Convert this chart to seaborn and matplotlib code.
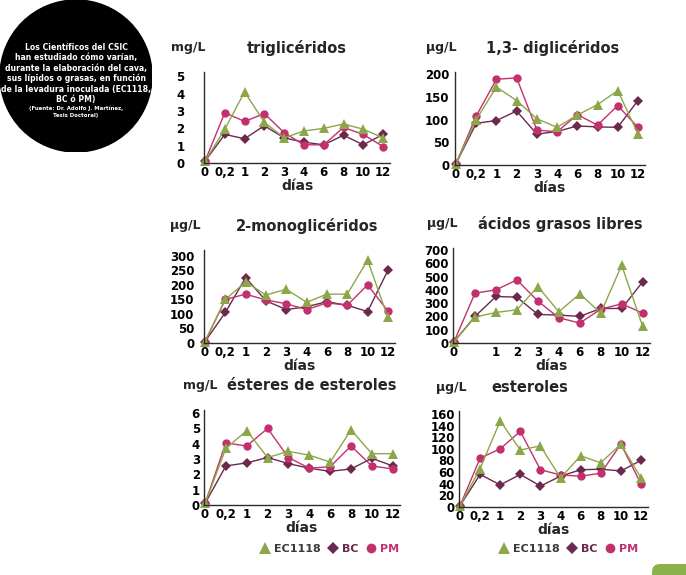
import numpy as np
import pandas as pd
import matplotlib
matplotlib.use('Agg')
import matplotlib.pyplot as plt
import matplotlib.patches as mpatches
from matplotlib.lines import Line2D
import seaborn as sns

# Data
dias = ['0', '0,2', '1', '2', '3', '4', '6', '8', '10', '12']
cepas = ['EC1118', 'BC', 'PM']

trigliceridos = {
    'EC1118': [0.1, 1.95, 4.1, 2.35, 1.45, 1.85, 2.0, 2.25, 1.95, 1.45],
    'BC':     [0.1, 1.65, 1.4, 2.15, 1.45, 1.2, 1.05, 1.6, 1.05, 1.65],
    'PM':     [0.1, 2.9, 2.4, 2.85, 1.75, 1.05, 1.05, 2.05, 1.65, 0.95],
}
digliceridos = {
    'EC1118': [3, 100, 172, 142, 102, 83, 110, 133, 164, 69],
    'BC':     [3, 92, 98, 119, 68, 74, 86, 84, 83, 142],
    'PM':     [3, 108, 189, 192, 77, 73, 111, 88, 131, 83],
}
monogliceridos = {
    'EC1118': [5, 150, 210, 165, 185, 140, 168, 168, 285, 88],
    'BC':     [5, 105, 225, 145, 115, 125, 142, 130, 108, 250],
    'PM':     [5, 150, 168, 148, 135, 115, 138, 130, 200, 110],
}
acidos_grasos = {
    'EC1118': [10, 195, 230, 250, 425, 235, 370, 225, 585, 125],
    'BC':     [10, 200, 350, 345, 215, 210, 200, 260, 260, 460],
    'PM':     [10, 375, 400, 475, 315, 190, 150, 255, 295, 225],
}
esteres = {
    'EC1118': [0.1, 3.7, 4.85, 3.1, 3.5, 3.25, 2.8, 4.9, 3.35, 3.35],
    'BC':     [0.1, 2.55, 2.75, 3.1, 2.7, 2.4, 2.2, 2.35, 3.05, 2.55],
    'PM':     [0.1, 4.05, 3.85, 5.0, 3.1, 2.4, 2.5, 3.85, 2.55, 2.35],
}
esteroles = {
    'EC1118': [2, 66, 148, 98, 105, 50, 88, 76, 108, 50],
    'BC':     [2, 56, 38, 56, 36, 53, 64, 65, 62, 80],
    'PM':     [2, 84, 100, 130, 64, 55, 53, 58, 108, 40],
}

# panels: data, title, unit, yticks, ymax, axes rect in px (left, top, right, bottom), title x, unit x, ytick pad
paneles = [
    (trigliceridos, 'triglicéridos', 'mg/L', [0, 1, 2, 3, 4, 5], 5.25, (204, 72, 390, 163), 297, 188, 14),
    (digliceridos, '1,3- diglicéridos', 'µg/L', [0, 50, 100, 150, 200], 205, (455, 72, 645, 165), 553, 441, 4),
    (monogliceridos, '2-monoglicéridos', 'µg/L', [0, 50, 100, 150, 200, 250, 300], 320, (204, 250, 395, 343), 307, 185, 7),
    (acidos_grasos, 'ácidos grasos libres', 'µg/L', [0, 100, 200, 300, 400, 500, 600, 700], 715, (453, 248, 650, 343), 560, 442, 3),
    (esteres, 'ésteres de esteroles', 'mg/L', [0, 1, 2, 3, 4, 5, 6], 6.2, (204, 410, 400, 505), 312, 200, 3),
    (esteroles, 'esteroles', 'µg/L', [0, 20, 40, 60, 80, 100, 120, 140, 160], 165, (459, 411, 648, 507), 530, 451, 3),
]

colores = {'EC1118': '#8ca74a', 'BC': '#6b2a4d', 'PM': '#c3306e'}
marcadores = {'EC1118': '^', 'BC': 'D', 'PM': 'o'}
tam_marc = {'EC1118': 7, 'BC': 5.5, 'PM': 6}

sns.set_style('white')
plt.rcParams['font.family'] = ['DejaVu Sans']
plt.rcParams['font.weight'] = 'bold'

W, H = 686, 575
fig = plt.figure(figsize=(W / 100, H / 100), dpi=100)
fig.patch.set_facecolor('white')

def px_rect(l, t, r, b):
    return [l / W, 1 - b / H, (r - l) / W, (b - t) / H]

eje_color = '#2b2b2b'

for datos, titulo, unidad, yticks, ymax, rect, tx, ux, ypad in paneles:
    ax = fig.add_axes(px_rect(*rect))
    filas = []
    for c in cepas:
        for k, v in enumerate(datos[c]):
            filas.append({'pos': k, 'valor': v, 'cepa': c})
    df = pd.DataFrame(filas)
    for c in ['BC', 'PM', 'EC1118']:
        sub = df[df['cepa'] == c]
        sns.lineplot(data=sub, x='pos', y='valor', color=colores[c], marker=marcadores[c],
                     markersize=tam_marc[c], markeredgewidth=0, linewidth=1.0, ax=ax,
                     legend=False, clip_on=False)
    ax.set_xlim(-0.05, 9.35)
    ax.set_ylim(0, ymax)
    ax.set_xticks(range(len(dias)))
    etiquetas = list(dias)
    if titulo == 'ácidos grasos libres':
        etiquetas[1] = ''
    ax.set_xticklabels(etiquetas)
    ax.set_yticks(yticks)
    ax.set_yticklabels([str(y) for y in yticks])
    ax.tick_params(axis='both', direction='in', length=3, width=0.8, color=eje_color,
                   labelsize=8.5, labelcolor='black', pad=2)
    ax.tick_params(axis='y', pad=ypad)
    for lab in ax.get_xticklabels() + ax.get_yticklabels():
        lab.set_fontweight('bold')
    for s in ['top', 'right']:
        ax.spines[s].set_visible(False)
    for s in ['left', 'bottom']:
        ax.spines[s].set_color(eje_color)
        ax.spines[s].set_linewidth(1.0)
    ax.set_xlabel('días', fontsize=10, fontweight='bold', labelpad=0)
    ax.set_ylabel('')
    ax.grid(False)
    ty = rect[1] - 24
    fig.text(tx / W, 1 - ty / H, titulo, ha='center', va='center', fontsize=10.5, fontweight='bold')
    fig.text(ux / W, 1 - ty / H, unidad, ha='center', va='center', fontsize=9, fontweight='bold')

# legends below the bottom panels
for lx in [261, 500]:
    handles = [Line2D([], [], color=colores[c], marker=marcadores[c], linestyle='none',
                      markersize=tam_marc[c] + 1, markeredgewidth=0) for c in cepas]
    leg = fig.legend(handles, cepas, loc='center left', bbox_to_anchor=((lx - 10) / W, 1 - 549 / H),
                     ncol=3, frameon=False, handlelength=0.8, handletextpad=0.4,
                     columnspacing=0.7, fontsize=8)
    for txt, c in zip(leg.get_texts(), ['#3a3a3a', colores['BC'], colores['PM']]):
        txt.set_color(c)
        txt.set_fontweight('bold')

# black circle with the description
cax = fig.add_axes(px_rect(0, 0, 152, 152))
cax.set_xlim(0, 1)
cax.set_ylim(0, 1)
cax.set_aspect('equal')
cax.axis('off')
cax.add_patch(mpatches.Circle((0.5, 0.5), 0.5, color='black'))
texto = ['Los Científicos del CSIC', 'han estudiado cómo varían,',
         'durante la elaboración del cava,', 'sus lípidos o grasas, en función',
         'de la levadura inoculada (EC1118,', 'BC ó PM)']
for j, t in enumerate(texto):
    cax.text(0.5, 0.69 - j * 0.069, t, ha='center', va='center', color='white',
             fontsize=5.6, fontweight='bold')
cax.text(0.5, 0.69 - 6 * 0.069 + 0.012, '(Fuente: Dr. Adolfo J. Martínez,', ha='center', va='center',
         color='white', fontsize=3.9, fontweight='bold')
cax.text(0.5, 0.69 - 7 * 0.069 + 0.03, 'Tesis Doctoral)', ha='center', va='center',
         color='white', fontsize=3.9, fontweight='bold')

# decorative green tab, bottom right corner
gax = fig.add_axes([0, 0, 1, 1], zorder=-1)
gax.set_xlim(0, W)
gax.set_ylim(H, 0)
gax.axis('off')
gax.add_patch(mpatches.FancyBboxPatch((652, 564), 60, 30, boxstyle='round,pad=0,rounding_size=8',
                                      color='#8cb24a', linewidth=0))

fig.savefig('out.png', dpi=100)
